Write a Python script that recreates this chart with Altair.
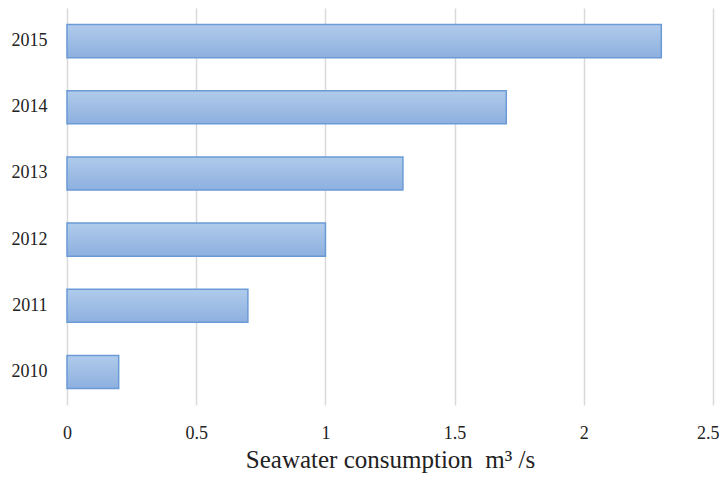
import altair as alt
import pandas as pd

years = ["2010", "2011", "2012", "2013", "2014", "2015"]
values = [0.2, 0.7, 1.0, 1.3, 1.7, 2.3]

df = pd.DataFrame({"year": years, "value": values})

FONT = "Palatino Linotype, Book Antiqua, Liberation Serif, serif"

grad = alt.Gradient(
    gradient="linear",
    stops=[alt.GradientStop(color="#b0cbeb", offset=0),
           alt.GradientStop(color="#8db0df", offset=1)],
    x1=0, x2=0, y1=0, y2=1,
)

chart = alt.Chart(df).mark_bar(
    color=grad, stroke="#6b9bd6", strokeWidth=1.5
).encode(
    x=alt.X("value:Q",
            scale=alt.Scale(domain=[0, 2.5], nice=False),
            axis=alt.Axis(values=[0, 0.5, 1, 1.5, 2, 2.5], format="~g",
                          title="Seawater consumption\u00a0\u00a0m³\u00a0/s",
                          grid=True, gridColor="#d9d9d9", gridWidth=1.5,
                          domain=False, ticks=False, labelPadding=19,
                          labelFontSize=18, titleFontSize=25,
                          titlePadding=5, labelFont=FONT, titleFont=FONT,
                          labelColor="#222", titleColor="#222",
                          titleFontWeight="normal", labelFlush=False,
                          labelAlign=alt.ExprRef("datum.value == 2.5 ? 'right' : 'center'"),
                          labelOffset=alt.ExprRef("datum.value == 2.5 ? 6 : 0"))),
    y=alt.Y("year:N", sort=years[::-1],
            scale=alt.Scale(paddingInner=0.5, paddingOuter=0.25),
            axis=alt.Axis(title=None, domain=False, ticks=False,
                          labelPadding=20, labelFontSize=18, labelFont=FONT,
                          labelColor="#222")),
).properties(
    width=646, height=397,
    padding={"left": 59, "top": 0, "right": 6, "bottom": 72},
    autosize=alt.AutoSizeParams(type="none"),
).configure_view(stroke=None)

chart.save("out.html", embed_options={"renderer": "svg", "actions": False})
